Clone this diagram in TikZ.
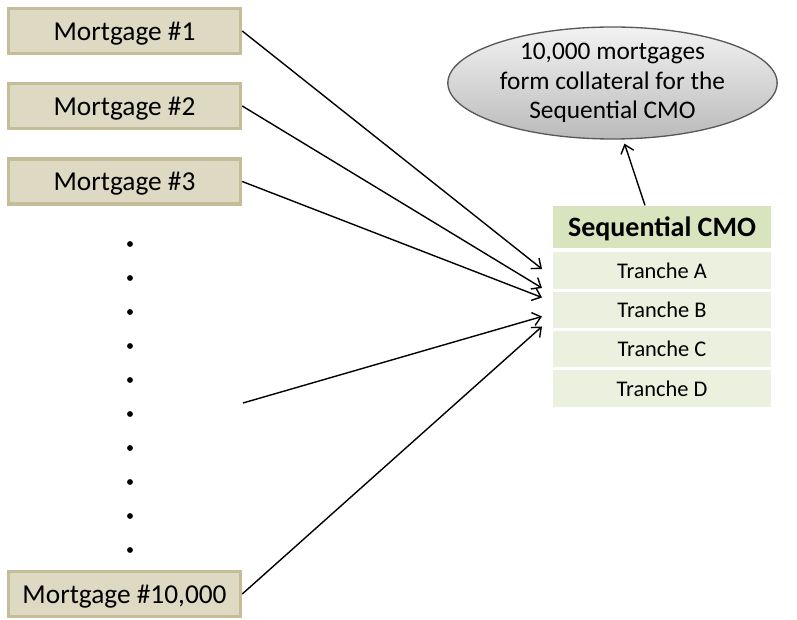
\documentclass[tikz,border=0pt]{standalone}
\usepackage{fontspec}
\setmainfont{Carlito}
\usetikzlibrary{arrows.meta,shapes.geometric,calc}
\definecolor{mtgfill}{HTML}{DDD9C3}
\definecolor{mtgedge}{HTML}{C4BD97}
\definecolor{cmohead}{HTML}{D7E4BD}
\definecolor{cmorow}{HTML}{EBF1DE}
\definecolor{ovaledge}{HTML}{595959}
\tikzset{
  mtg/.style={draw=mtgedge, fill=mtgfill, line width=2.6pt, minimum width=174pt,
    minimum height=34pt, inner sep=0pt, text depth=0pt, font=\fontsize{20.5}{24}\selectfont},
  cmohdr/.style={fill=cmohead, minimum width=163.5pt, minimum height=32pt, inner sep=0pt,
    text depth=0pt, font=\fontsize{21}{24}\selectfont\bfseries},
  cmotr/.style={fill=cmorow, minimum width=163.5pt, minimum height=27.5pt, inner sep=0pt,
    font=\fontsize{16.8}{19}\selectfont},
  dotmark/.style={circle, fill=black, inner sep=0pt, minimum size=4.4pt},
  link/.style={line width=1.05pt, -{Straight Barb[length=6pt,width=10pt,line width=1.05pt]}},
}
\begin{document}
\begin{tikzpicture}[x=0.75pt, y=-0.75pt]
  \useasboundingbox (0,0) rectangle (797,620);

  % mortgage pool
  \node[mtg] (m1) at (124.5,31) {Mortgage \#1};
  \node[mtg] (m2) at (124.5,106) {Mortgage \#2};
  \node[mtg] (m3) at (124.5,181.5) {Mortgage \#3};
  \node[mtg] (m4) at (124.5,594) {Mortgage \#10,000};
  \foreach \k [count=\i] in {244,278,312,346,380,414,448,482,516,550}
    \node[dotmark] (d\i) at (130,\k) {};
  \coordinate (mx) at (243,403);

  % sequential CMO structure
  \node[cmohdr] (hdr) at (662,227) {Sequential CMO};
  \node[cmotr] (ta) at (662,270.5) {Tranche A};
  \node[cmotr] (tb) at (662,310) {Tranche B};
  \node[cmotr] (tc) at (662,349) {Tranche C};
  \node[cmotr] (td) at (662,388.5) {Tranche D};

  % collateral note
  \node[ellipse, draw=ovaledge, line width=1pt, top color=white!95!black, bottom color=black!27,
    minimum width=247pt, minimum height=68pt, inner sep=0pt, align=center,
    font=\fontsize{19}{22}\selectfont] (note) at (612.5,83)
    {10,000 mortgages\\form collateral for the\\Sequential CMO};

  % connectors
  \coordinate (p1) at (542,269);
  \coordinate (p2) at (542,288);
  \coordinate (p3) at (542,297.5);
  \coordinate (p4) at (542,316.5);
  \coordinate (p5) at (542,326.5);
  \draw[link] (m1.east) -- (p1);
  \draw[link] (m2.east) -- (p2);
  \draw[link] (m3.east) -- (p3);
  \draw[link] (mx) -- (p4);
  \draw[link] (m4.east) -- (p5);
  \draw[link] ($(hdr.north)+(-17,0)$) -- ($(note.south)+(12,4)$);
\end{tikzpicture}
\end{document}
